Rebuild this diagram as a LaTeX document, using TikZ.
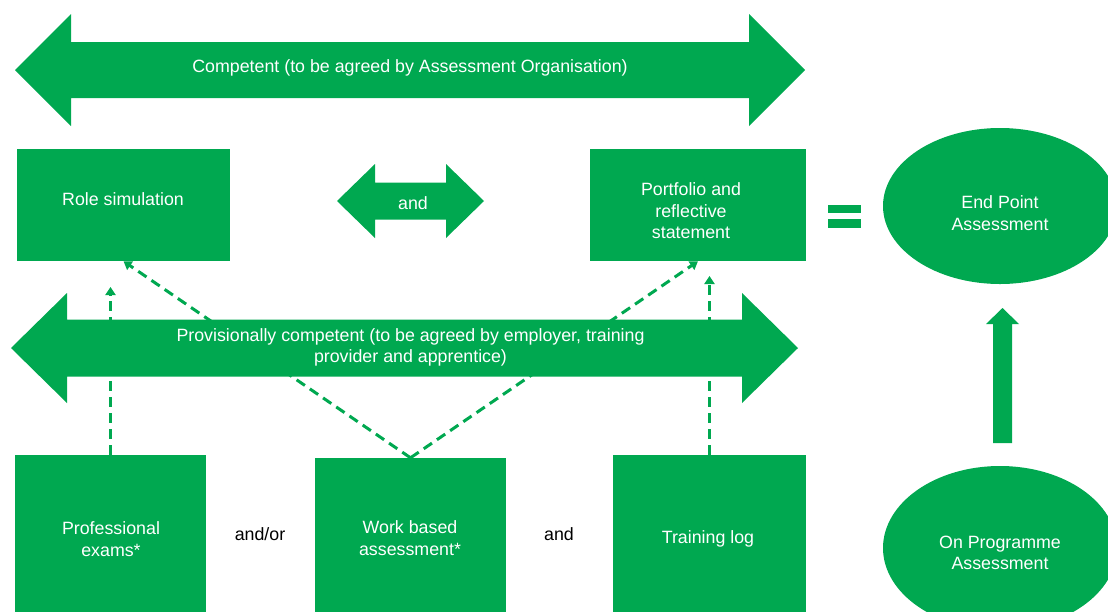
\documentclass[tikz,border=0pt]{standalone}
\usepackage{fontspec}
\setmainfont{Liberation Sans}
\usetikzlibrary{arrows.meta,shapes.geometric}
\definecolor{apgreen}{RGB}{0,168,80}
% block arrow pointing both ways: left x, right x, mid y, half shaft, half head, tip length
\newcommand{\twoway}[6]{%
  \fill[apgreen] (#1,#3) -- (#1+#6,#3-#5) -- (#1+#6,#3-#4) -- (#2-#6,#3-#4) -- (#2-#6,#3-#5)
    -- (#2,#3) -- (#2-#6,#3+#5) -- (#2-#6,#3+#4) -- (#1+#6,#3+#4) -- (#1+#6,#3+#5) -- cycle;}
\begin{document}
\begin{tikzpicture}[x=1pt,y=-1pt,font=\fontsize{17.8}{21.5}\selectfont]
    \tikzset{box/.style = {shape = rectangle,fill=apgreen,inner sep = 0pt},
             oval/.style = {shape = ellipse,fill=apgreen,inner sep = 0pt,minimum width = 234pt},
             lbl/.style = {text=white,inner sep = 0pt,align=center},
             dashlink/.style = {draw=apgreen,line width=3pt,dash pattern=on 10pt off 6pt,-{Triangle[width=10pt,length=8pt]}}}
    \useasboundingbox (0,0) rectangle (1108,611);
    % top row
    \node[box,minimum width=213pt,minimum height=112pt] (rs) at (123.5,205) {};
    \node[box,minimum width=216pt,minimum height=112pt] (pf) at (698,205) {};
    \fill[apgreen] (828,205) rectangle (861,213);
    \fill[apgreen] (828,219) rectangle (861,228);
    \node[oval,minimum height=156pt] (epa) at (1000,206) {};
    % bottom row
    \node[box,minimum width=191pt,minimum height=160pt] (pe) at (110.5,535) {};
    \node[box,minimum width=191pt,minimum height=156pt] (wb) at (410.5,536) {};
    \node[box,minimum width=193pt,minimum height=160pt] (tl) at (709.5,535) {};
    \node[oval,minimum height=164pt] (opa) at (1000,548) {};
    \node[inner sep=0pt] (andor) at (260,534) {and/or};
    \node[inner sep=0pt] (andb) at (559,534) {and};
    % dashed links
    \coordinate (rsin) at (110.5,287);
    \coordinate (pfin) at (709.5,276);
    \draw[dashlink] (pe.north) -- (rsin);
    \draw[dashlink] (wb.north) -- (rs.south);
    \draw[dashlink] (wb.north) -- (pf.south);
    \draw[dashlink] (tl.north) -- (pfin);
    % block arrows
    \twoway{15}{805}{70}{28}{56}{56}
    \twoway{337}{484}{201}{18.5}{37}{38}
    \twoway{11}{798}{348}{28.5}{55}{56}
    \fill[apgreen] (993,443) -- (993,324) -- (986,324) -- (1002.5,308) -- (1019,324) -- (1012,324) -- (1012,443) -- cycle;
    % texts
    \node[lbl] (comp) at (410,68) {Competent (to be agreed by Assessment Organisation)};
    \node[lbl] (andm) at (413,203) {and};
    \node[lbl] (prov) at (410.5,347.5) {Provisionally competent (to be agreed by employer, training\\provider and apprentice)};
    \node[lbl] (rst) at (123,199) {Role simulation};
    \node[lbl] (pft) at (691,211) {Portfolio and\\reflective\\statement};
    \node[lbl] (epat) at (1000,213) {End Point\\Assessment};
    \node[lbl] (pet) at (111,539) {Professional\\exams*};
    \node[lbl] (wbt) at (410,538) {Work based\\assessment*};
    \node[lbl] (tlt) at (708,539) {Training log};
    \node[lbl] (opat) at (1000,553) {On Programme\\Assessment};
\end{tikzpicture}
\end{document}
